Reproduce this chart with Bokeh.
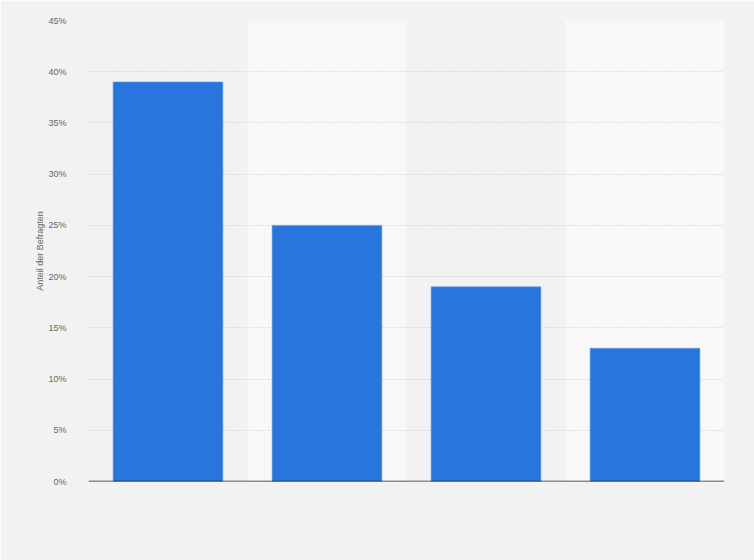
from bokeh.plotting import figure
from bokeh.models import Range1d, CustomJSTickFormatter, ColumnDataSource
from bokeh.embed import file_html
from bokeh.resources import INLINE

categories = ["A", "B", "C", "D"]
values = [39, 25, 19, 13]
y_ticks = [0, 5, 10, 15, 20, 25, 30, 35, 40, 45]
band_colors = ["#f2f2f2", "#f8f8f8", "#f2f2f2", "#f8f8f8"]

xs = list(range(1, len(categories) + 1))

p = figure(width=754, height=560, output_backend="svg", toolbar_location=None,
           x_range=Range1d(0.5, len(categories) + 0.5), y_range=Range1d(0, 45))
p.min_border_left = 88
p.min_border_right = 30
p.min_border_top = 20
p.min_border_bottom = 79
p.background_fill_color = "#f2f2f2"
p.border_fill_color = "#f2f2f2"
p.outline_line_color = None

band_src = ColumnDataSource(dict(left=[x - 0.5 for x in xs], right=[x + 0.5 for x in xs],
                                 bottom=[0] * len(xs), top=[45] * len(xs), color=band_colors))
p.quad(left="left", right="right", bottom="bottom", top="top", fill_color="color",
       line_color=None, source=band_src, level="underlay")

bar_src = ColumnDataSource(dict(x=xs, top=values))
p.vbar(x="x", top="top", width=0.69, bottom=0, source=bar_src,
       fill_color="#2876dd", line_color="#5a97e6", line_width=0.6)

p.xaxis.visible = False
p.xgrid.visible = False
p.ygrid.grid_line_color = "#c8c8c8"
p.ygrid.grid_line_dash = "1 2"
p.ygrid.grid_line_width = 1

p.yaxis.ticker = y_ticks
p.yaxis.formatter = CustomJSTickFormatter(code="return tick + '%';")
p.yaxis.axis_line_color = None
p.yaxis.major_tick_line_color = None
p.yaxis.minor_tick_line_color = None
p.yaxis.major_label_text_font = "Liberation Sans"
p.yaxis.major_label_text_font_size = "9px"
p.yaxis.major_label_text_color = "#666666"
p.yaxis.major_label_standoff = 16
p.yaxis.axis_label = "Anteil der Befragten"
p.yaxis.axis_label_text_font = "Liberation Sans"
p.yaxis.axis_label_text_font_size = "9px"
p.yaxis.axis_label_text_font_style = "normal"
p.yaxis.axis_label_text_color = "#666666"
p.yaxis.axis_label_standoff = 0

# baseline
p.segment(x0=[0.5], y0=[0], x1=[len(categories) + 0.5], y1=[0], line_color="#222222", line_width=1.5)

html = file_html(p, INLINE)
html = html.replace("<body>", '<body style="background:#f2f2f2">', 1)
open("out.html", "w").write(html)
